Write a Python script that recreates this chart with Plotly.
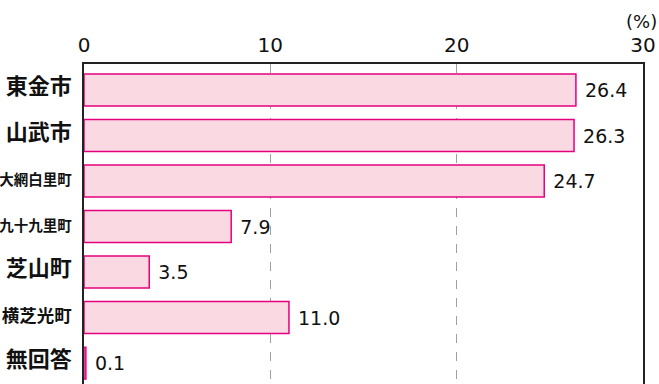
import plotly.graph_objects as go

categories = ["東金市", "山武市", "大網白里町", "九十九里町", "芝山町", "横芝光町", "無回答"]
values = [26.4, 26.3, 24.7, 7.9, 3.5, 11.0, 0.1]
label_sizes = [22, 22, 14.5, 14.5, 22, 17.5, 22]
x_ticks = [0, 10, 20, 30]

jp_font = "Noto Sans CJK JP, Noto Sans, sans-serif"
num_font = "DejaVu Sans, Noto Sans, sans-serif"

ticktext = [f'<span style="font-size:{s}px"><b>{c}</b></span>' for c, s in zip(categories, label_sizes)]

fig = go.Figure(go.Bar(
    y=list(range(len(categories))),
    x=values,
    orientation="h",
    marker=dict(color="#FAD9E3", line=dict(color="#E5007F", width=1.5)),
    text=[f" {v:.1f}" for v in values],
    textposition="outside",
    textfont=dict(size=19, color="#111", family=num_font),
    cliponaxis=False,
))

fig.update_layout(
    width=659, height=384,
    margin=dict(l=84, r=16, t=64, b=0),
    paper_bgcolor="white", plot_bgcolor="white",
    bargap=0.3,
    showlegend=False,
    font=dict(family=jp_font, color="#111"),
    xaxis=dict(
        side="top", range=[0, 30], tickvals=x_ticks,
        ticktext=[str(t) for t in x_ticks],
        tickfont=dict(size=20, color="#111", family=num_font),
        showgrid=True, gridcolor="#A0A0A0", griddash="dash", gridwidth=1,
        showline=True, linecolor="#222", linewidth=1.5, mirror=True,
        zeroline=False, ticks="", ticklen=0, ticklabelstandoff=2,
        automargin=False,
    ),
    yaxis=dict(
        range=[6.46, -0.571],
        tickvals=list(range(len(categories))), ticktext=ticktext,
        tickfont=dict(color="#111", family=jp_font),
        showline=True, linecolor="#222", linewidth=1.5, mirror=True,
        showgrid=False, zeroline=False, ticks="", ticklen=0,
        ticklabelstandoff=8, automargin=False,
    ),
    annotations=[dict(
        x=1 + (659 - 643) / (643 - 84), y=1 + (64 - 21) / 320,
        xref="paper", yref="paper",
        text="(%)", showarrow=False, xanchor="right", yanchor="middle",
        font=dict(size=18, color="#111", family=num_font),
    )],
)

fig.write_html("out.html")
